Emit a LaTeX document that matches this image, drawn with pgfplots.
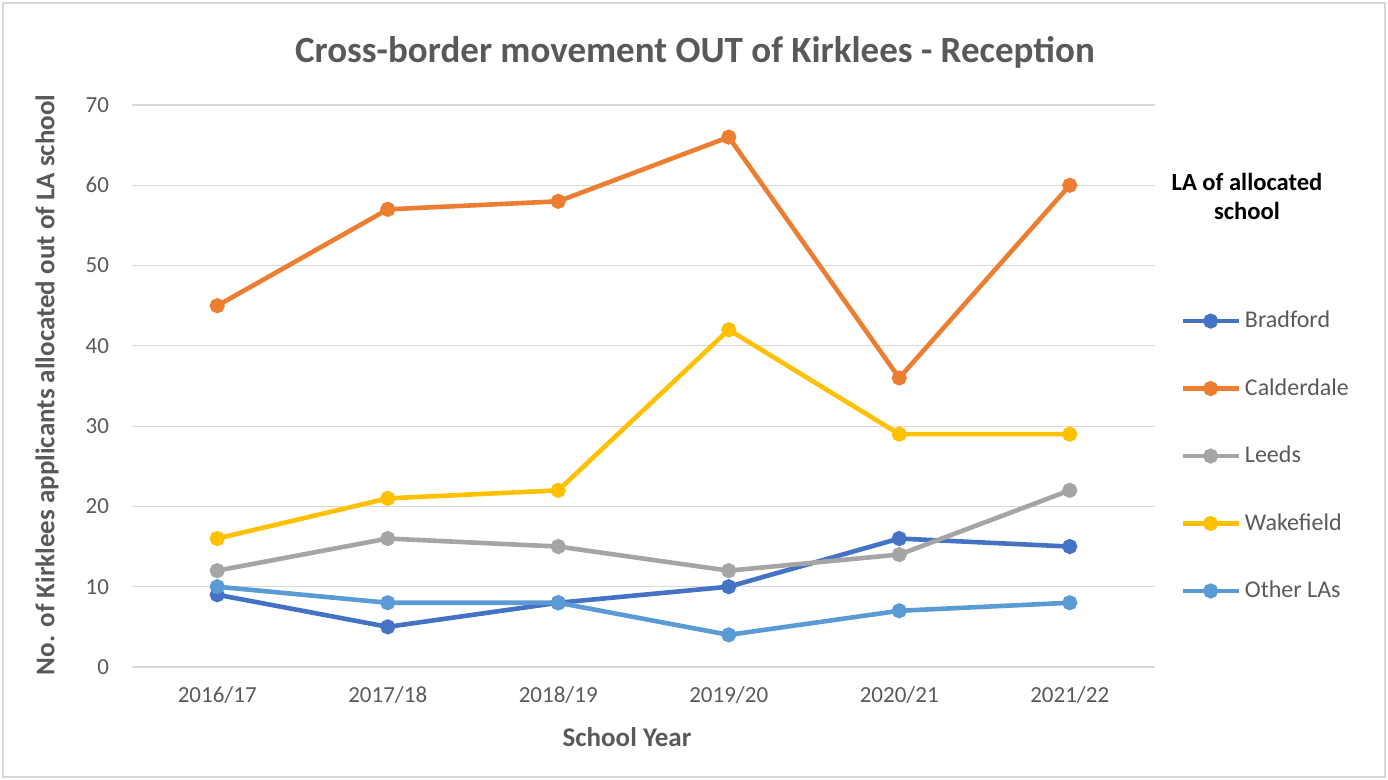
\documentclass[border=0pt]{standalone}
\usepackage{pgfplots}
\pgfplotsset{compat=1.18}
\usepackage{fontspec}
\setmainfont{Carlito}
\definecolor{cBrad}{HTML}{4472C4}
\definecolor{cCald}{HTML}{ED7D31}
\definecolor{cLeeds}{HTML}{A5A5A5}
\definecolor{cWake}{HTML}{FFC000}
\definecolor{cOther}{HTML}{5B9BD5}
\definecolor{txt}{HTML}{595959}
\definecolor{grid}{HTML}{D9D9D9}
\begin{document}
\begin{tikzpicture}
\path[use as bounding box] (-66pt,-56.5pt) rectangle (628pt,333.5pt);
\draw[color=grid, line width=0.6pt] (-64.5pt,-55pt) rectangle (626.5pt,332pt);
\begin{axis}[
  at={(0,0)}, anchor=south west,
  scale only axis,
  width=511.5pt, height=281pt,
  xmin=-0.5, xmax=5.5, ymin=0, ymax=70,
  xtick={0,1,2,3,4,5},
  xticklabels={2016/17,2017/18,2018/19,2019/20,2020/21,2021/22},
  ytick={0,10,20,30,40,50,60,70},
  axis line style={draw=none},
  major tick length=0pt,
  ymajorgrids, grid style={color=grid, line width=0.6pt},
  tick label style={color=txt, font=\fontsize{11.5}{13}\selectfont},
  /pgf/number format/assume math mode=true,
  yticklabel style={xshift=-8pt},
  xticklabel style={yshift=-6pt},
  clip=false,
  legend style={at={(1.0244,0.3754)}, anchor=west, draw=none, fill=none,
    font=\fontsize{12}{14}\selectfont\color{txt}, inner sep=0pt,
    row sep=19.9pt, legend cell align=left},
  legend image code/.code={
    \draw[#1, mark=none] (0pt,0pt) -- (28pt,0pt);
    \draw[#1, only marks] plot coordinates {(14pt,0pt)};
  },
  every axis plot/.append style={line width=2.3pt, mark=*, mark size=2.6pt},
]
\addplot[color=cBrad] coordinates {(0,9) (1,5) (2,8) (3,10) (4,16) (5,15)};
\addlegendentry{Bradford}
\addplot[color=cCald] coordinates {(0,45) (1,57) (2,58) (3,66) (4,36) (5,60)};
\addlegendentry{Calderdale}
\addplot[color=cLeeds] coordinates {(0,12) (1,16) (2,15) (3,12) (4,14) (5,22)};
\addlegendentry{Leeds}
\addplot[color=cWake] coordinates {(0,16) (1,21) (2,22) (3,42) (4,29) (5,29)};
\addlegendentry{Wakefield}
\addplot[color=cOther] coordinates {(0,10) (1,8) (2,8) (3,4) (4,7) (5,8)};
\addlegendentry{Other LAs}
\end{axis}
\node[font=\fontsize{18.5}{21}\selectfont\bfseries, color=txt] at (281.5pt,307.5pt) {Cross-border movement OUT of Kirklees - Reception};
\node[font=\fontsize{13.5}{16}\selectfont\bfseries, color=txt, rotate=90] at (-42.5pt,141pt) {No. of Kirklees applicants allocated out of LA school};
\node[font=\fontsize{13.5}{16}\selectfont\bfseries, color=txt] at (247.5pt,-35pt) {School Year};
\node[font=\fontsize{12.3}{14.5}\selectfont\bfseries, align=center] at (557.5pt,235.5pt) {LA of allocated\\school};
\end{tikzpicture}
\end{document}
